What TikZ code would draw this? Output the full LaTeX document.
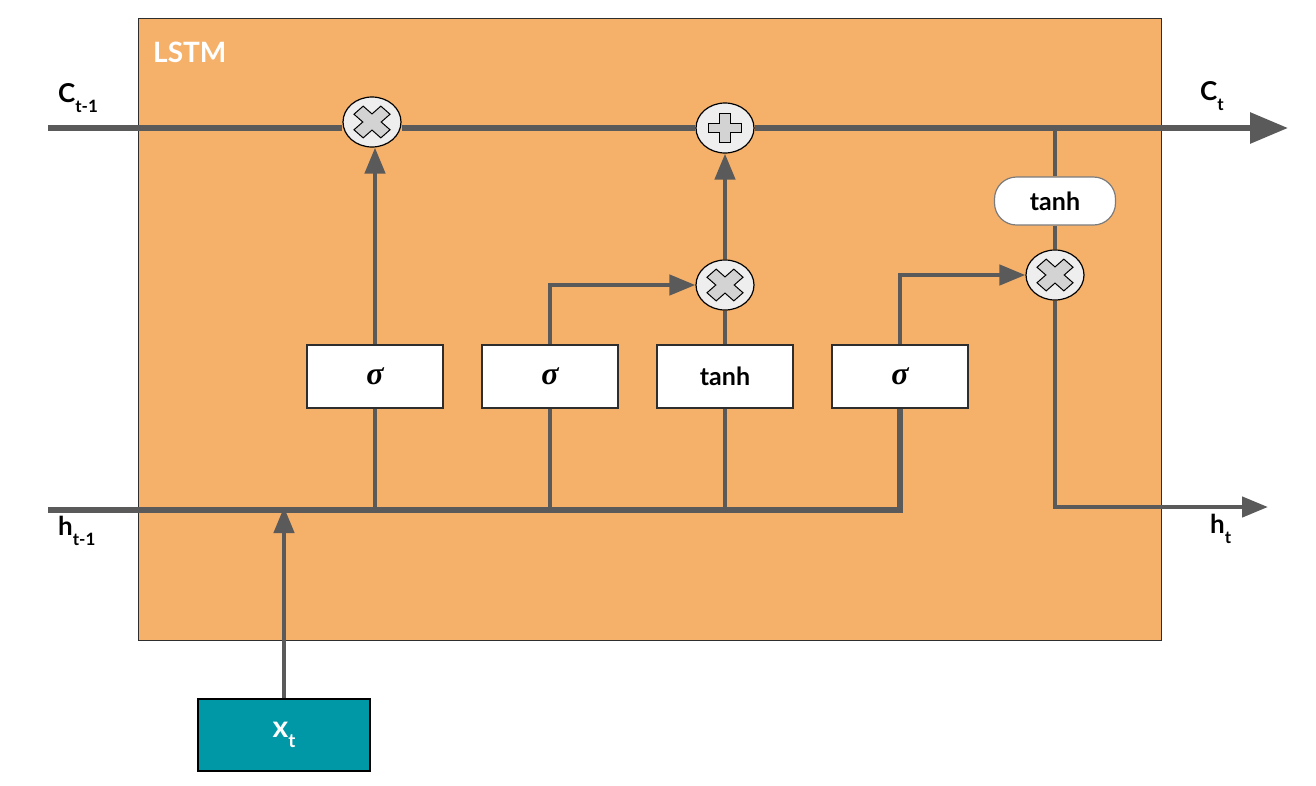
\documentclass[tikz,border=0pt]{standalone}
\usepackage{fontspec}
\setmainfont{Lato}
\newfontfamily\sigfont{Liberation Serif}
\usetikzlibrary{arrows.meta,shapes.geometric}
\definecolor{cellbg}{HTML}{F5B16A}
\definecolor{wirec}{HTML}{5A5A5A}
\definecolor{xteal}{HTML}{0097A7}
\definecolor{opfill}{HTML}{EEEEEE}
\definecolor{glyphc}{HTML}{D3D3D3}
\definecolor{edgec}{HTML}{2E2E2E}
\tikzset{
  wire/.style={draw=wirec, line width=4.5pt},
  mainwire/.style={draw=wirec, line width=6pt},
  arr/.style={-{Triangle[length=26pt,width=20pt]}},
  bigarr/.style={-{Triangle[length=38pt,width=30pt]}},
  gatebox/.style={draw=edgec, fill=white, line width=1.2pt, minimum width=136pt, minimum height=63pt, inner sep=0pt},
  opnode/.style={ellipse, draw=black, fill=opfill, line width=1.2pt, minimum width=58pt, minimum height=50pt, inner sep=0pt},
  lbl/.style={font=\bfseries\fontsize{26}{28}\selectfont, anchor=base west, inner sep=0pt},
  xglyph/.pic={\draw[fill=glyphc, line width=1pt, yscale=0.88, rotate=45]
     (6.5,19)--(6.5,6.5)--(19,6.5)--(19,-6.5)--(6.5,-6.5)--(6.5,-19)--(-6.5,-19)--(-6.5,-6.5)--(-19,-6.5)--(-19,6.5)--(-6.5,6.5)--(-6.5,19)--cycle;},
  pglyph/.pic={\draw[fill=glyphc, line width=1pt, yscale=0.88]
     (5.5,16.5)--(5.5,5.5)--(16.5,5.5)--(16.5,-5.5)--(5.5,-5.5)--(5.5,-16.5)--(-5.5,-16.5)--(-5.5,-5.5)--(-16.5,-5.5)--(-16.5,5.5)--(-5.5,5.5)--(-5.5,16.5)--cycle;}
}
\newcommand{\subtxt}[1]{\raisebox{-10pt}{\fontsize{17}{17}\selectfont #1}}
\newcommand{\sig}{{\sigfont\bfseries\itshape\fontsize{32}{32}\selectfont σ}}
\begin{document}
\begin{tikzpicture}[x=1pt,y=-1pt]
\useasboundingbox[fill=white] (0,0) rectangle (1316,785);
% cell box
\node[draw=edgec, fill=cellbg, line width=1.2pt, minimum width=1023pt, minimum height=622pt, anchor=north west, inner sep=0pt] (cell) at (138,18) {};
\node[font=\bfseries\fontsize{28}{30}\selectfont, text=white, anchor=base west, inner sep=0pt] (title) at (153,62) {LSTM};
% gates
\node[gatebox] (g1) at (375,376.5) {\sig};
\node[gatebox] (g2) at (550,376.5) {\sig};
\node[gatebox, font=\bfseries\fontsize{25}{27}\selectfont] (g3) at (725,376.5) {tanh};
\node[gatebox] (g4) at (900,376.5) {\sig};
% ops
\node[opnode] (m1) at (372,122) {};
\node[opnode] (p1) at (725,128) {};
\node[opnode] (m2) at (725,285) {};
\node[opnode] (m3) at (1055,275) {};
\node[draw=wirec!80, fill=white, line width=1.2pt, rounded corners=22pt, minimum width=121pt, minimum height=48pt, inner sep=0pt, font=\bfseries\fontsize{25}{27}\selectfont] (th) at (1055,201) {tanh};
% input
\node[draw=black, fill=xteal, line width=1.2pt, minimum width=172pt, minimum height=72pt, inner sep=0pt, text=white, font=\bfseries\fontsize{30}{30}\selectfont] (xt) at (284,735) {x\raisebox{-10pt}{\fontsize{19}{19}\selectfont t}};
% coordinates
\coordinate (cin) at (48,128);
\coordinate (cout) at (1288,128);
\coordinate (cb) at (1055,128);
\coordinate (hin) at (48,510);
\coordinate (hout) at (1268,507);
% cell state line
\draw[mainwire] (cin) -- (cin -| m1.west);
\draw[mainwire] (cin -| m1.east) -- (p1.west);
\draw[mainwire, bigarr] (p1.east) -- (cout);
% h line and gate feeds
\draw[mainwire] (hin) -| (g4.south);
\draw[wire] (g1.south) -- (g1.south |- hin);
\draw[wire] (g2.south) -- (g2.south |- hin);
\draw[wire] (g3.south) -- (g3.south |- hin);
\draw[wire, arr] (xt.north) -- ([yshift=3pt]xt.north |- hin);
% gate outputs
\draw[wire, arr] (g1.north) -- (g1.north |- m1.south);
\draw[wire, arr] (g2.north) |- (m2.west);
\draw[wire] (g3.north) -- (m2.south);
\draw[wire, arr] (m2.north) -- (p1.south);
\draw[wire, arr] (g4.north) |- (m3.west);
% output branch
\draw[wire] (cb) -- (th.north);
\draw[wire] (th.south) -- (m3.north);
\draw[wire, arr] (m3.south) |- (hout);
% glyphs
\pic at (m1) {xglyph};
\pic at (m2) {xglyph};
\pic at (m3) {xglyph};
\pic at (p1) {pglyph};
% labels
\node[lbl] (lc0) at (58,102) {C\subtxt{t-1}};
\node[lbl] (lc1) at (1200,100) {C\subtxt{t}};
\node[lbl] (lh0) at (58,535) {h\subtxt{t-1}};
\node[lbl] (lh1) at (1210,533) {h\subtxt{t}};
\end{tikzpicture}
\end{document}
